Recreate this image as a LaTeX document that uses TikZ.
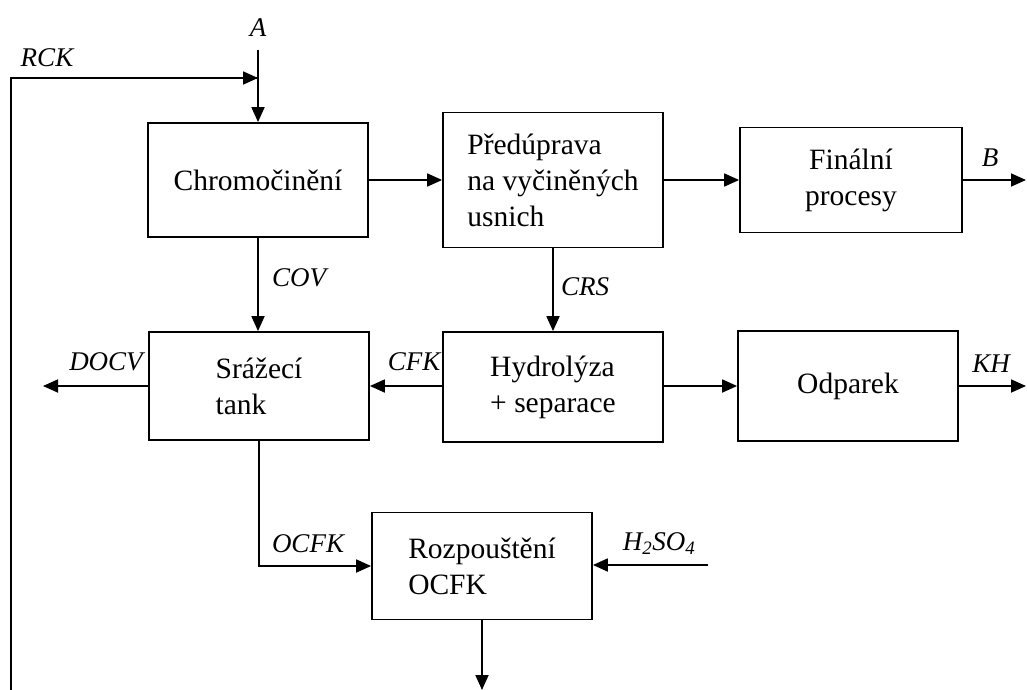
\documentclass[tikz,border=0pt]{standalone}
\usepackage{fontspec}
\setmainfont{Liberation Serif}
\usetikzlibrary{arrows.meta}
\begin{document}
\begin{tikzpicture}[x=1pt,y=-1pt,
  box/.style={draw,line width=1.8pt,inner sep=0pt,align=left,
    font=\fontsize{29.5}{36}\selectfont},
  lab/.style={font=\fontsize{27}{30}\selectfont\itshape,inner sep=0pt},
  flow/.style={line width=1.8pt,-{Triangle[length=15pt,width=13pt]}},
  line/.style={line width=1.8pt}]
\useasboundingbox (0,0) rectangle (1027,690);
% boxes
\node[box,minimum width=220pt,minimum height=114pt] (chrom) at (258,180) {Chromočinění};
\node[box,minimum width=220pt,minimum height=135pt] (pred) at (553,180) {Předúprava\\na vyčiněných\\usnich};
\node[box,align=center,minimum width=222pt,minimum height=105pt] (fin) at (851,180) {Finální\\procesy};
\node[box,minimum width=220pt,minimum height=108pt] (sraz) at (259,386) {Srážecí\\tank};
\node[box,minimum width=220pt,minimum height=110pt] (hyd) at (553,387) {Hydrolýza\\+ separace};
\node[box,minimum width=220pt,minimum height=110pt] (odp) at (848,386) {Odparek};
\node[box,minimum width=220pt,minimum height=107pt] (rozp) at (482,566) {Rozpouštění\\OCFK};
% free ends
\coordinate (atop) at (258,50);
\coordinate (junc) at (258,78);
\coordinate (rckb) at (11,690);
\coordinate (rckt) at (11,78);
\coordinate (bout) at (1026,180);
\coordinate (khout) at (1026,386);
\coordinate (docv) at (43,386);
\coordinate (hin) at (708,565);
\coordinate (rout) at (482,690);
% connectors
\draw[flow] (atop) -- (chrom.north);
\draw[line] (rckb) -- (rckt) -- (junc);
\draw[flow] (rckt) -- (junc);
\draw[flow] (chrom.east) -- (pred.west |- chrom.east);
\draw[flow] (pred.east |- fin.west) -- (fin.west);
\draw[flow] (fin.east) -- (bout);
\draw[flow] (chrom.south) -- (chrom.south |- sraz.north);
\draw[flow] (pred.south) -- (pred.south |- hyd.north);
\draw[flow] (hyd.west |- sraz.east) -- (sraz.east);
\draw[flow] (sraz.west) -- (docv);
\draw[flow] (hyd.east |- odp.west) -- (odp.west);
\draw[flow] (odp.east) -- (khout);
\draw[flow] (sraz.south) |- (rozp.west);
\draw[flow] (hin) -- (rozp.east |- hin);
\draw[flow] (rozp.south) -- (rout);
% labels
\node[lab] (la) at (258,28) {A};
\node[lab] (lrck) at (47,58) {RCK};
\node[lab] (lb) at (990,158) {B};
\node[lab] (lcov) at (299,278) {COV};
\node[lab] (lcrs) at (585,287) {CRS};
\node[lab] (lcfk) at (414,362) {CFK};
\node[lab] (ldocv) at (106,362) {DOCV};
\node[lab] (lkh) at (991,364) {KH};
\node[lab] (locfk) at (308,544) {OCFK};
\node[lab] (lh) at (659,544) {H\textsubscript{2}SO\textsubscript{4}};
\end{tikzpicture}
\end{document}
